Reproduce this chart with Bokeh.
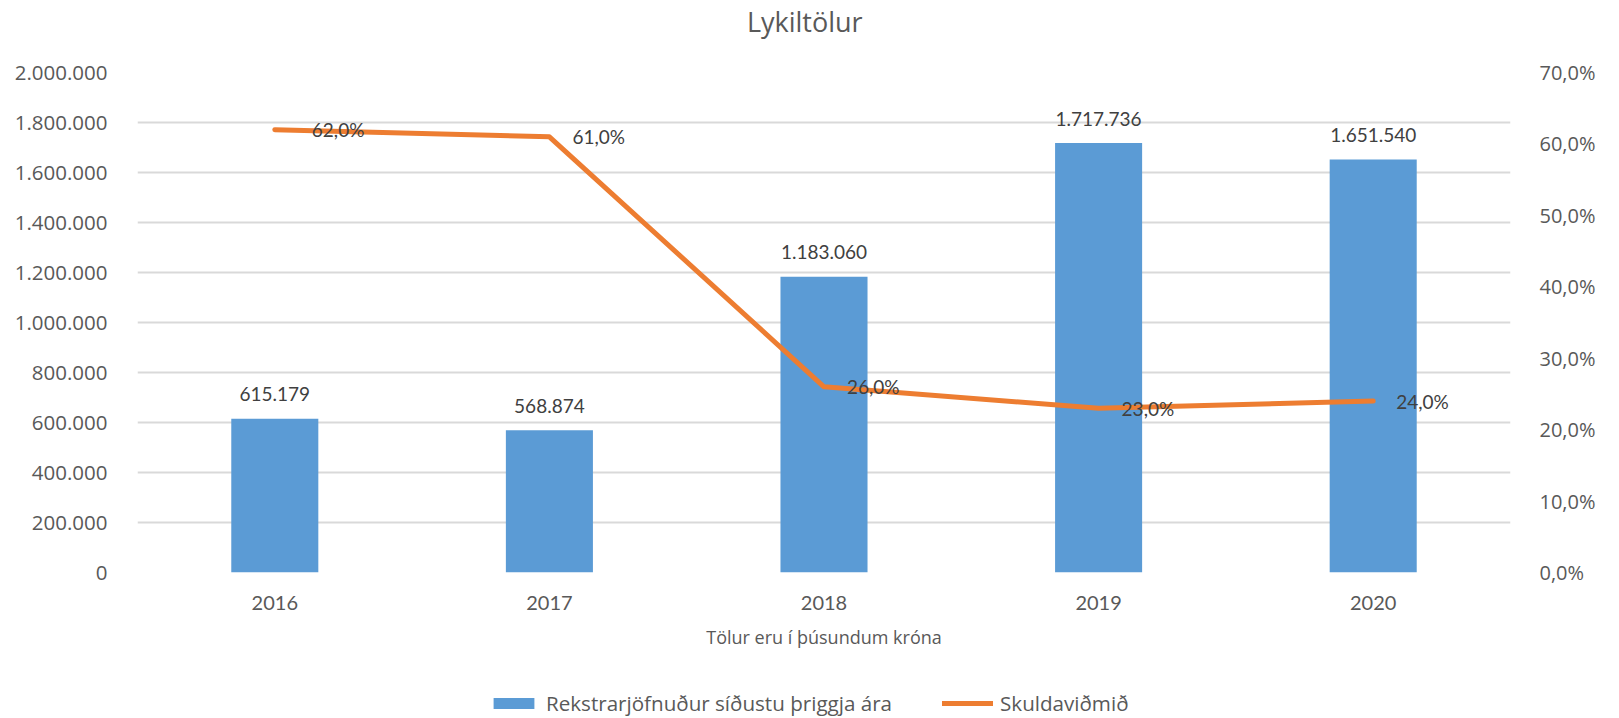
from bokeh.plotting import figure
from bokeh.models import (FactorRange, Range1d, LinearAxis, FixedTicker, CustomJSTickFormatter,
                          Legend, LegendItem, ColumnDataSource, LabelSet)
from bokeh.layouts import column
from bokeh.core.properties import value
from bokeh.embed import file_html
from bokeh.resources import INLINE

# ---- data ----
years = ["2016", "2017", "2018", "2019", "2020"]
rekstrarjofnudur = [615179, 568874, 1183060, 1717736, 1651540]
skuldavidmid = [62.0, 61.0, 26.0, 23.0, 24.0]
left_ticks = [0, 200000, 400000, 600000, 800000, 1000000, 1200000, 1400000, 1600000, 1800000, 2000000]
right_ticks = [0, 10, 20, 30, 40, 50, 60, 70]

title_text = "Lykiltölur"
x_title = "Tölur eru í þúsundum króna"
name_bars = "Rekstrarjöfnuður síðustu þriggja ára"
name_line = "Skuldaviðmið"

# ---- styles ----
BAR_COLOR = "#5b9bd5"
LINE_COLOR = "#ed7d31"
TICK_COLOR = "#595959"
LABEL_COLOR = "#404040"
GRID_COLOR = "#d9d9d9"
W = 1619
H_TITLE, H_MAIN, H_LEG = 42, 616, 60
BORDER_L, BORDER_R = 137, 109

bar_labels = [f"{v:,}".replace(",", ".") for v in rekstrarjofnudur]
line_labels = [f"{v:.1f}".replace(".", ",") + "%" for v in skuldavidmid]
line_label_dx = [37, 23, 23, 23, 23]

src = ColumnDataSource(dict(year=years, value=rekstrarjofnudur, pct=skuldavidmid,
                            blabel=bar_labels, llabel=line_labels, ldx=line_label_dx))


def strip(height, x_range):
    f = figure(width=W, height=height, x_range=x_range, y_range=Range1d(0, 1),
               output_backend="svg", toolbar_location=None, min_border=0,
               min_border_left=BORDER_L, min_border_right=BORDER_R,
               x_axis_location=None, y_axis_location=None)
    f.outline_line_color = None
    f.grid.visible = False
    return f


# ---- title strip ----
pt = strip(H_TITLE, Range1d(0, 1))
pt.text(x=[0.486], y=[0.5], text=[title_text], text_align="center", text_baseline="middle",
        text_font=value("Open Sans"), text_font_size="27px", text_color=TICK_COLOR)

# ---- main chart ----
p = figure(x_range=FactorRange(*years, range_padding=0), y_range=Range1d(0, 2000000),
           width=W, height=H_MAIN, output_backend="svg", toolbar_location=None,
           min_border_left=BORDER_L, min_border_right=BORDER_R, min_border_top=30, min_border_bottom=86)
p.extra_y_ranges = {"pct": Range1d(0, 70)}
p.outline_line_color = None
p.xgrid.grid_line_color = None
p.ygrid.grid_line_color = GRID_COLOR
p.ygrid.grid_line_width = 2
p.ygrid.ticker = FixedTicker(ticks=left_ticks)

yax = p.yaxis[0]
yax.ticker = FixedTicker(ticks=left_ticks)
yax.formatter = CustomJSTickFormatter(code="return tick.toFixed(0).replace(/\\B(?=(\\d{3})+(?!\\d))/g, '.');")
yax.axis_line_color = None
yax.major_tick_line_color = None
yax.minor_tick_line_color = None
yax.major_label_text_font = "Open Sans"
yax.major_label_text_font_size = "20.5px"
yax.major_label_text_color = TICK_COLOR
yax.major_label_standoff = 24

rax = LinearAxis(y_range_name="pct", ticker=FixedTicker(ticks=right_ticks),
                 formatter=CustomJSTickFormatter(code="return tick.toFixed(1).replace('.', ',') + '%';"))
rax.axis_line_color = None
rax.major_tick_line_color = None
rax.minor_tick_line_color = None
rax.major_label_text_font = "Open Sans"
rax.major_label_text_font_size = "20px"
rax.major_label_text_color = TICK_COLOR
rax.major_label_standoff = 23
p.add_layout(rax, "right")

xax = p.xaxis[0]
xax.axis_line_color = None
xax.major_tick_line_color = None
xax.minor_tick_line_color = None
xax.major_label_text_font = "Lato"
xax.major_label_text_font_size = "20px"
xax.major_label_text_color = TICK_COLOR
xax.major_label_standoff = 17
xax.axis_label = x_title
xax.axis_label_text_font = "Open Sans"
xax.axis_label_text_font_size = "18px"
xax.axis_label_text_font_style = "normal"
xax.axis_label_text_color = TICK_COLOR
xax.axis_label_standoff = 12

bars = p.vbar(x="year", top="value", width=0.317, source=src, fill_color=BAR_COLOR, line_color=None)
line = p.line(x="year", y="pct", y_range_name="pct", source=src, line_color=LINE_COLOR,
              line_width=5, line_cap="round", line_join="round")

p.add_layout(LabelSet(x="year", y="value", text="blabel", source=src, text_align="center",
                      text_baseline="middle", y_offset=24.5, text_font=value("Lato"),
                      text_font_size="19px", text_color=LABEL_COLOR))
p.add_layout(LabelSet(x="year", y="pct", y_range_name="pct", text="llabel", source=src,
                      text_align="left", text_baseline="middle", x_offset="ldx",
                      text_font=value("Lato"), text_font_size="19px", text_color=LABEL_COLOR))

# ---- legend strip (hidden copies of the two series supply the legend swatches) ----
pl = strip(H_LEG, FactorRange(*years, range_padding=0))
leg_bar = pl.vbar(x="year", top="value", width=0.317, source=src, fill_color=BAR_COLOR,
                  line_color=None, visible=False)
leg_line = pl.line(x="year", y="pct", source=src, line_color=LINE_COLOR, line_width=5,
                   line_cap="round", visible=False)
legend = Legend(items=[LegendItem(label=name_bars, renderers=[leg_bar]),
                       LegendItem(label=name_line, renderers=[leg_line])],
                orientation="horizontal", location=(351, 1),
                glyph_width=51, glyph_height=14, label_standoff=7, spacing=50,
                padding=0, margin=0, border_line_color=None, background_fill_alpha=0,
                inactive_fill_alpha=0,
                label_text_font="Open Sans", label_text_font_size="20.6px", label_text_color=TICK_COLOR)
pl.add_layout(legend, "center")

layout = column(pt, p, pl, spacing=0)
open("out.html", "w").write(file_html(layout, INLINE))
